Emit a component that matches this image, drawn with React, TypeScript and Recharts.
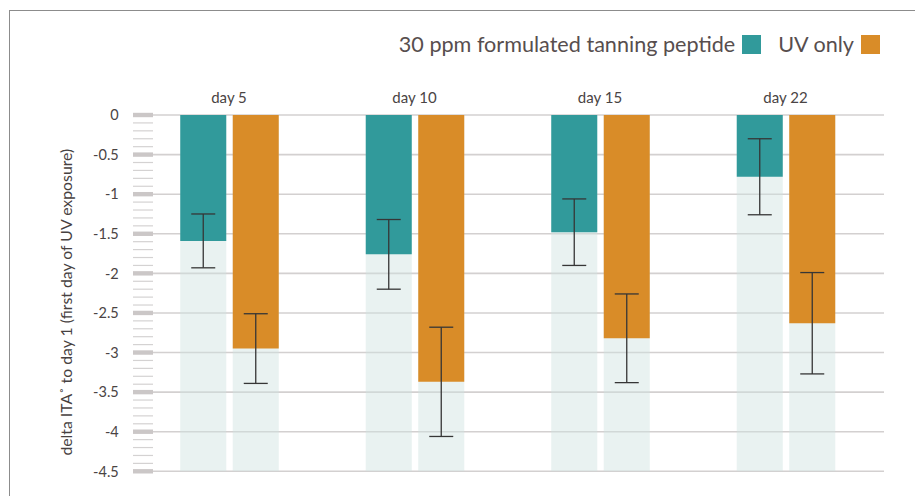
import React from 'react';
import { BarChart, Bar, XAxis, YAxis, CartesianGrid, ErrorBar, Legend } from 'recharts';

const categories = ['day 5', 'day 10', 'day 15', 'day 22'];
const peptideValues = [-1.59, -1.76, -1.48, -0.78];
const peptideErrors = [0.34, 0.44, 0.42, 0.48];
const uvOnlyValues = [-2.95, -3.37, -2.82, -2.63];
const uvOnlyErrors = [0.44, 0.69, 0.56, 0.64];
const seriesNames = ['30 ppm formulated tanning peptide', 'UV only'];
const yAxisTitle = 'delta ITA\u02DA to day 1 (first day of UV exposure)';

const majorTicks = [0, -0.5, -1, -1.5, -2, -2.5, -3, -3.5, -4, -4.5];
const allTicks = [
  0, -0.1, -0.2, -0.3, -0.4, -0.5, -0.6, -0.7, -0.8, -0.9,
  -1, -1.1, -1.2, -1.3, -1.4, -1.5, -1.6, -1.7, -1.8, -1.9,
  -2, -2.1, -2.2, -2.3, -2.4, -2.5, -2.6, -2.7, -2.8, -2.9,
  -3, -3.1, -3.2, -3.3, -3.4, -3.5, -3.6, -3.7, -3.8, -3.9,
  -4, -4.1, -4.2, -4.3, -4.4, -4.5,
];

const TEAL = '#319a9b';
const ORANGE = '#d98c28';
const FONT = 'Lato, "Open Sans", sans-serif';

const data = categories.map((day, i) => ({
  day,
  peptide: peptideValues[i],
  peptideErr: peptideErrors[i],
  uv: uvOnlyValues[i],
  uvErr: uvOnlyErrors[i],
}));

const YTick = (props: any) => {
  const { x, y, payload } = props;
  const major = majorTicks.includes(payload.value);
  return (
    <g>
      {major ? (
        <rect x={x - 3.25} y={y - 2.2} width={20} height={4.4} fill="#cbc7c7" />
      ) : (
        <line x1={x - 3.25} x2={x + 16.75} y1={y} y2={y} stroke="#d4d2d2" strokeWidth={1.2} />
      )}
      {major && (
        <text
          x={x - 17.5}
          y={y}
          dy="0.36em"
          textAnchor="end"
          fontFamily={FONT}
          fontSize={14.5}
          fill="#4a4444"
        >
          {String(payload.value)}
        </text>
      )}
    </g>
  );
};

const renderYLabel = (props: any) => {
  const vb = props.viewBox || {};
  const cx = vb.x + 9;
  const cy = vb.y + vb.height / 2 + 9;
  return (
    <text
      x={cx}
      y={cy}
      transform={`rotate(-90, ${cx}, ${cy})`}
      textAnchor="middle"
      dominantBaseline="central"
      fontFamily={FONT}
      fontSize={15.8}
      fill="#474141"
    >
      {yAxisTitle}
    </text>
  );
};

const gridLine = (props: any) => {
  const { x1, x2, y1, y2 } = props;
  return (
    <line
      key={props.key}
      x1={x1 + 16.75}
      x2={x2 + 5.75}
      y1={y1}
      y2={y2}
      stroke="#d3d0d0"
      strokeWidth={1.6}
    />
  );
};

const renderLegend = (props: any) => {
  const payload = props.payload || [];
  return (
    <div
      style={{
        display: 'flex',
        justifyContent: 'flex-end',
        alignItems: 'center',
        height: 28,
        fontFamily: FONT,
        fontSize: 21.6,
        color: '#574e4e',
      }}
    >
      {payload.map((entry: any, i: number) => (
        <span
          key={entry.value}
          style={{ display: 'flex', alignItems: 'center', marginLeft: i ? 17 : 0 }}
        >
          <span>{entry.value}</span>
          <span
            style={{
              display: 'inline-block',
              width: 19,
              height: 19,
              background: entry.color,
              marginLeft: 7,
            }}
          />
        </span>
      ))}
    </div>
  );
};

export default function App() {
  return (
    <div style={{ position: 'absolute', left: 0, top: 0, width: 915, height: 496, background: '#fff' }}>
      <div
        style={{
          position: 'absolute',
          left: 9,
          top: 10,
          width: 906,
          height: 486,
          borderTop: '1px solid #8c8c8c',
          borderLeft: '1px solid #8c8c8c',
          boxSizing: 'border-box',
        }}
      />
      <div style={{ position: 'absolute', left: 0, top: 0 }}>
        <BarChart
          width={915}
          height={496}
          data={data}
          margin={{ top: 85, right: 36.75, bottom: 24.7, left: 56.25 }}
          barSize={46}
          barGap={6.5}
        >
          <CartesianGrid
            vertical={false}
            horizontalValues={majorTicks}
            horizontal={gridLine}
          />
          <XAxis
            dataKey="day"
            orientation="top"
            height={30}
            axisLine={false}
            tickLine={false}
            tickSize={0}
            tickMargin={12}
            interval={0}
            tick={{ fontFamily: FONT, fontSize: 15, fill: '#4a4444' }}
          />
          <YAxis
            type="number"
            domain={[-4.5, 0]}
            ticks={allTicks}
            interval={0}
            width={80}
            axisLine={false}
            tickLine={false}
            tickSize={0}
            tickMargin={0}
            tick={<YTick />}
            label={{ content: renderYLabel }}
          />
          <Legend
            layout="horizontal"
            verticalAlign="middle"
            align="center"
            content={renderLegend}
            wrapperStyle={{ top: 30, left: 0, width: 880 }}
          />
          <Bar
            dataKey="peptide"
            name={seriesNames[0]}
            fill={TEAL}
            background={{ fill: '#cfe3e0', fillOpacity: 0.45 }}
            isAnimationActive={false}
          >
            <ErrorBar dataKey="peptideErr" width={12} stroke="#363636" strokeWidth={1.3} isAnimationActive={false} />
          </Bar>
          <Bar
            dataKey="uv"
            name={seriesNames[1]}
            fill={ORANGE}
            background={{ fill: '#cfe3e0', fillOpacity: 0.45 }}
            isAnimationActive={false}
          >
            <ErrorBar dataKey="uvErr" width={12} stroke="#363636" strokeWidth={1.3} isAnimationActive={false} />
          </Bar>
        </BarChart>
      </div>
    </div>
  );
}
